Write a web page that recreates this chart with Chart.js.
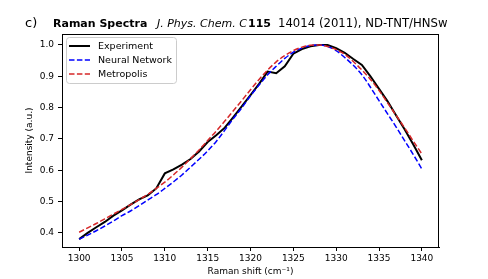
<!DOCTYPE html>
<html><head><meta charset="utf-8">
<script src="https://cdn.jsdelivr.net/npm/chart.js@4/dist/chart.umd.min.js"></script>
<style>html,body{margin:0;padding:0;background:#fff;}#wrap{width:488px;height:279px;}</style>
</head><body><div id="wrap"><canvas id="c" width="488" height="279"></canvas></div>
<script>
const ramanShift = [1300,1301,1302,1303,1304,1305,1306,1307,1308,1309,1310,1311,1312,1313,1314,1315,1316,1317,1318,1319,1320,1321,1322,1323,1324,1325,1326,1327,1328,1329,1330,1331,1332,1333,1334,1335,1336,1337,1338,1339,1340];
const experiment = [0.380,0.400,0.418,0.435,0.455,0.472,0.490,0.507,0.520,0.542,0.590,0.603,0.618,0.636,0.660,0.690,0.712,0.736,0.770,0.805,0.840,0.876,0.915,0.910,0.932,0.972,0.987,0.996,1.000,1.000,0.990,0.975,0.955,0.936,0.900,0.860,0.820,0.775,0.730,0.682,0.632];
const neuralNetwork = [0.380,0.393,0.407,0.422,0.438,0.455,0.470,0.487,0.505,0.522,0.542,0.563,0.585,0.610,0.635,0.662,0.692,0.728,0.765,0.800,0.838,0.872,0.905,0.932,0.957,0.977,0.990,0.998,1.000,0.995,0.982,0.960,0.935,0.905,0.865,0.822,0.780,0.738,0.694,0.650,0.604];
const metropolis = [0.402,0.416,0.430,0.445,0.460,0.475,0.490,0.506,0.523,0.542,0.562,0.585,0.610,0.637,0.665,0.695,0.725,0.757,0.790,0.823,0.857,0.890,0.920,0.946,0.966,0.982,0.993,0.999,1.000,0.995,0.985,0.970,0.947,0.920,0.890,0.855,0.815,0.775,0.735,0.693,0.652];
const xTickValues = [1300,1305,1310,1315,1320,1325,1330,1335,1340];
const yTickValues = [0.4,0.5,0.6,0.7,0.8,0.9,1.0];
const seriesNames = ['Experiment','Neural Network','Metropolis'];
const seriesColors = ['#000000','#0000ff','#d62728'];
const xAxisTitle = 'Raman shift (cm\u207B\u00B9)';
const yAxisTitle = 'Intensity (a.u.)';
const panelLabel = 'c)';
const titleSegments = [
  {text:'Raman Spectra', style:'bold', size:11, x:53},
  {text:'J. Phys. Chem. C', style:'italic', size:11, x:157},
  {text:'115', style:'bold', size:11, x:248},
  {text:'14014 (2011), ND-TNT/HNSw', style:'normal', size:11.7, x:278}
];

const FONT = '"DejaVu Sans", "Liberation Sans", sans-serif';
const toPts = ys => ys.map((y,i)=>({x:ramanShift[i], y}));

const framePlugin = {
  id:'frame',
  afterDatasetsDraw(chart){
    const {ctx, chartArea:a} = chart;
    ctx.save();
    ctx.strokeStyle='#000'; ctx.lineWidth=1;
    ctx.strokeRect(Math.round(a.left)+0.5, Math.round(a.top)+0.5, Math.round(a.right-a.left)-1, Math.round(a.bottom-a.top));
    // legend
    const bx=66.5, by=37.5, bw=110, bh=46;
    ctx.beginPath();
    ctx.roundRect(bx,by,bw,bh,3);
    ctx.fillStyle='rgba(255,255,255,0.8)'; ctx.fill();
    ctx.strokeStyle='#cccccc'; ctx.lineWidth=1; ctx.stroke();
    const rows=[46,60,74];
    for(let i=0;i<3;i++){
      ctx.beginPath();
      ctx.strokeStyle=seriesColors[i];
      if(i===0){ctx.setLineDash([]); ctx.lineWidth=2;} else {ctx.setLineDash([5.5,2.4]); ctx.lineWidth=1.5;}
      ctx.moveTo(69,rows[i]); ctx.lineTo(90,rows[i]); ctx.stroke();
      ctx.setLineDash([]);
      ctx.fillStyle='#000'; ctx.font='9.5px '+FONT; ctx.textBaseline='middle'; ctx.textAlign='left';
      ctx.fillText(seriesNames[i], 98, rows[i]+0.5);
    }
    ctx.restore();
  },
  afterDraw(chart){
    const ctx=chart.ctx;
    ctx.save();
    ctx.fillStyle='#000'; ctx.textBaseline='alphabetic'; ctx.textAlign='left';
    ctx.font='13px '+FONT;
    ctx.fillText(panelLabel, 25, 27);
    for(const s of titleSegments){
      const w = s.style==='bold'?'bold ':'';
      const it = s.style==='italic'?'italic ':'';
      ctx.font = it+w+s.size+'px '+FONT;
      ctx.fillText(s.text, s.x, 27);
    }
    ctx.restore();
  }
};

new Chart(document.getElementById('c'), {
  type:'line',
  data:{datasets:[
    {label:seriesNames[0], data:toPts(experiment), borderColor:seriesColors[0], borderWidth:2, pointRadius:0, tension:0, order:3},
    {label:seriesNames[1], data:toPts(neuralNetwork), borderColor:seriesColors[1], borderWidth:1.5, borderDash:[5.5,2.4], pointRadius:0, cubicInterpolationMode:'monotone', order:2},
    {label:seriesNames[2], data:toPts(metropolis), borderColor:seriesColors[2], borderWidth:1.5, borderDash:[5.5,2.4], pointRadius:0, cubicInterpolationMode:'monotone', order:1}
  ]},
  options:{
    responsive:false, animation:false, devicePixelRatio:1,
    layout:{padding:{left:0,right:49,top:34,bottom:0}},
    plugins:{legend:{display:false}, tooltip:{enabled:false}, title:{display:false}},
    scales:{
      x:{type:'linear', min:1298, max:1342,
        afterBuildTicks: ax => { ax.ticks = xTickValues.map(v=>({value:v})); },
        afterFit: s => { s.height = 32; },
        grid:{display:true, drawOnChartArea:false, drawTicks:true, tickLength:4, tickColor:'#000', tickWidth:1},
        border:{display:true, color:'#000', width:1},
        ticks:{color:'#000', font:{family:FONT, size:9}, padding:2, maxRotation:0, callback:v=>String(v)},
        title:{display:true, text:xAxisTitle, color:'#000', font:{family:FONT, size:9}, padding:{top:0,bottom:2}}
      },
      y:{type:'linear', min:0.355, max:1.035,
        afterBuildTicks: ax => { ax.ticks = yTickValues.map(v=>({value:v})); },
        afterFit: s => { s.width = 62; },
        grid:{display:true, drawOnChartArea:false, drawTicks:true, tickLength:4, tickColor:'#000', tickWidth:1},
        border:{display:true, color:'#000', width:1},
        ticks:{color:'#000', font:{family:FONT, size:9}, padding:4, callback:v=>v.toFixed(1)},
        title:{display:true, text:yAxisTitle, color:'#000', font:{family:FONT, size:9}, padding:{top:24,bottom:0}}
      }
    }
  },
  plugins:[framePlugin]
});
</script></body></html>
